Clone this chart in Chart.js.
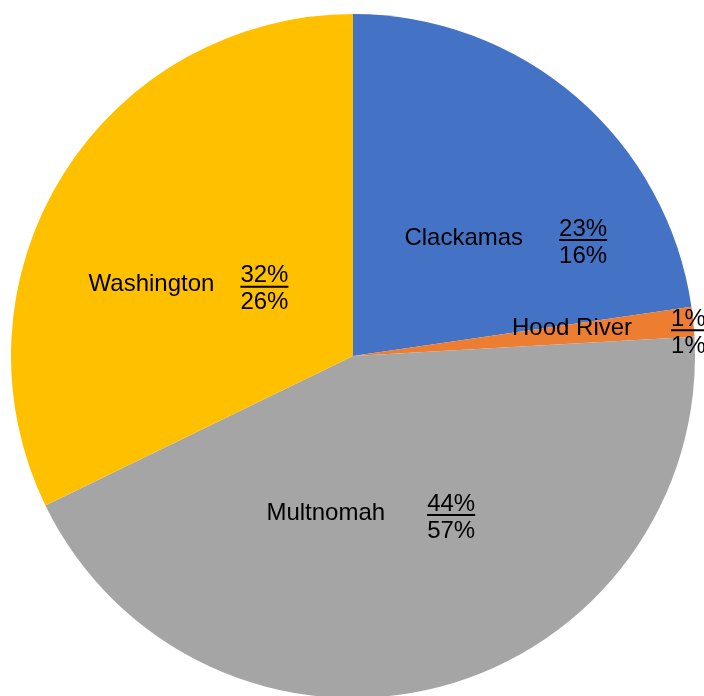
<!DOCTYPE html>
<html>
<head>
<meta charset="utf-8">
<script src="https://cdn.jsdelivr.net/npm/chart.js@4"></script>
<style>
  html, body { margin: 0; padding: 0; background: #fff; overflow: hidden; }
  #wrap { width: 704px; height: 712px; position: relative; }
</style>
</head>
<body>
<div id="wrap"><canvas id="pieChart"></canvas></div>
<script>
// counties, share of slice (drawn) and second share shown under the line
const counties = ['Clackamas', 'Hood River', 'Multnomah', 'Washington'];
const shares = [22.7, 1.4, 43.7, 32.2];
const secondShares = [16, 1, 57, 26];
const colors = ['#4472C4', '#ED7D31', '#A5A5A5', '#FFC000'];

// label placement relative to each slice (radius fraction, angle nudge in degrees, gap name->fraction)
const labelLayout = [
    { r: 0.561, dAng: 11.9, gap: 36 },
    { r: 0.752, dAng: 0, gap: 39 },
    { r: 0.468, dAng: 8.2, gap: 42 },
    { r: 0.522, dAng: -9.2, gap: 26 }
];

const fractionLabels = {
    id: 'fractionLabels',
    afterDatasetsDraw(chart) {
        const ctx = chart.ctx;
        const meta = chart.getDatasetMeta(0);
        const total = shares.reduce((a, b) => a + b, 0);
        ctx.save();
        ctx.font = '24px "Liberation Sans", Arial, sans-serif';
        ctx.fillStyle = '#000';
        ctx.strokeStyle = '#000';
        ctx.textBaseline = 'middle';
        meta.data.forEach((arc, i) => {
            const p = arc.getProps(['x', 'y', 'startAngle', 'endAngle', 'outerRadius'], true);
            const lay = labelLayout[i];
            const mid = (p.startAngle + p.endAngle) / 2 + lay.dAng * Math.PI / 180;
            const cx = p.x + Math.cos(mid) * p.outerRadius * lay.r;
            const cy = p.y + Math.sin(mid) * p.outerRadius * lay.r;

            const name = counties[i];
            const top = Math.round(shares[i] / total * 100) + '%';
            const bottom = secondShares[i] + '%';
            const nameW = ctx.measureText(name).width;
            const fracW = Math.max(ctx.measureText(top).width, ctx.measureText(bottom).width);
            const start = cx - (nameW + lay.gap + fracW) / 2;

            ctx.textAlign = 'left';
            ctx.fillText(name, start, cy - 2);

            const fx = start + nameW + lay.gap + fracW / 2;
            ctx.textAlign = 'center';
            ctx.fillText(top, fx, cy - 11);
            ctx.fillText(bottom, fx, cy + 16);
            ctx.lineWidth = 2;
            ctx.beginPath();
            ctx.moveTo(fx - fracW / 2, cy);
            ctx.lineTo(fx + fracW / 2, cy);
            ctx.stroke();
        });
        ctx.restore();
    }
};

new Chart(document.getElementById('pieChart'), {
    type: 'pie',
    data: {
        labels: counties,
        datasets: [{
            data: shares,
            backgroundColor: colors,
            borderWidth: 0
        }]
    },
    options: {
        responsive: true,
        maintainAspectRatio: false,
        animation: false,
        layout: { padding: { left: 11, right: 9, top: 14, bottom: 14 } },
        plugins: {
            legend: { display: false },
            tooltip: { enabled: false }
        }
    },
    plugins: [fractionLabels]
});
</script>
</body>
</html>
